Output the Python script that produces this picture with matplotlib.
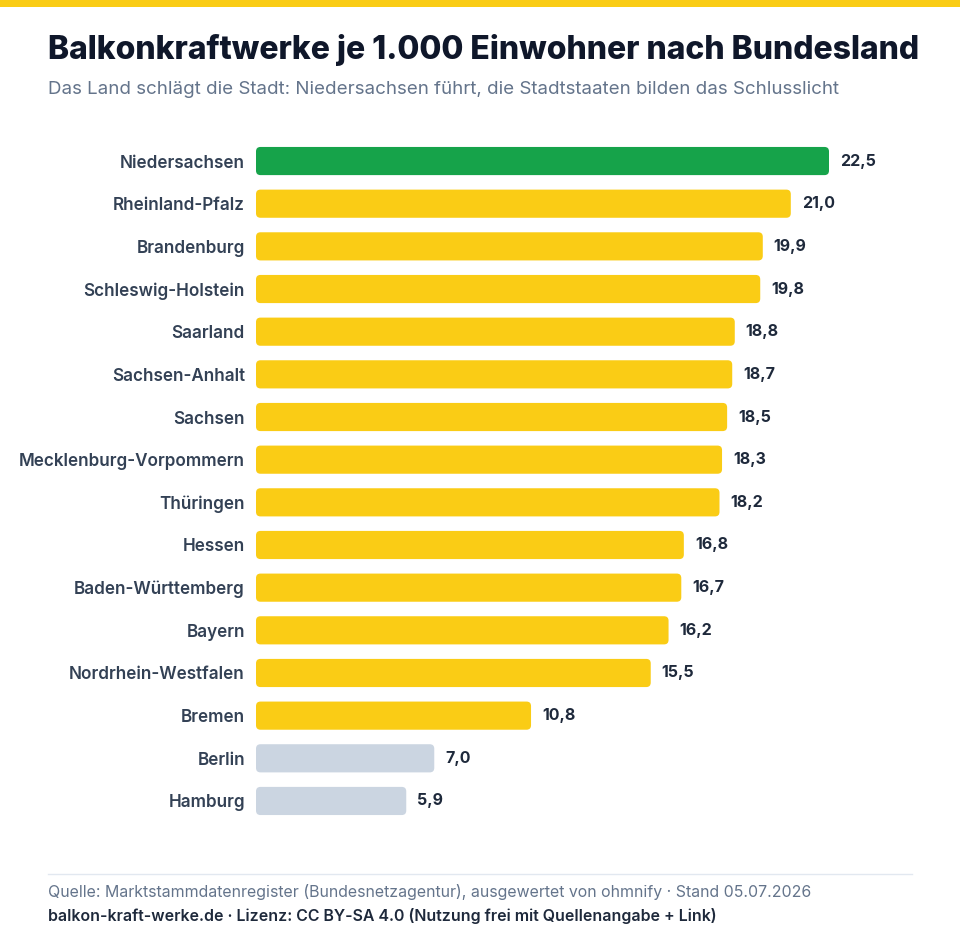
import matplotlib
matplotlib.use("Agg")
import matplotlib.pyplot as plt
from matplotlib.patches import FancyBboxPatch, Rectangle
from matplotlib.lines import Line2D

plt.rcParams['font.family'] = ['Inter', 'DejaVu Sans']

states = ["Niedersachsen", "Rheinland-Pfalz", "Brandenburg", "Schleswig-Holstein",
          "Saarland", "Sachsen-Anhalt", "Sachsen", "Mecklenburg-Vorpommern",
          "Thüringen", "Hessen", "Baden-Württemberg", "Bayern",
          "Nordrhein-Westfalen", "Bremen", "Berlin", "Hamburg"]
values = [22.5, 21.0, 19.9, 19.8, 18.8, 18.7, 18.5, 18.3, 18.2, 16.8, 16.7,
          16.2, 15.5, 10.8, 7.0, 5.9]
value_labels = ["22,5", "21,0", "19,9", "19,8", "18,8", "18,7", "18,5", "18,3",
                "18,2", "16,8", "16,7", "16,2", "15,5", "10,8", "7,0", "5,9"]

GREEN = "#16A34A"
YELLOW = "#FACC15"
GRAY = "#CBD5E1"
colors = [GREEN] + [YELLOW] * 13 + [GRAY] * 2

W, H = 960, 944
fig = plt.figure(figsize=(W / 100, H / 100), dpi=100)
fig.patch.set_facecolor("white")

# top stripe
fig.add_artist(Rectangle((0, 1 - 7 / H), 1, 7 / H, transform=fig.transFigure,
                         facecolor=YELLOW, edgecolor="none"))

ax_left, ax_right = 256, 912
ax_top, ax_bottom = 139.7, 822.3
ax = fig.add_axes([ax_left / W, (H - ax_bottom) / H,
                   (ax_right - ax_left) / W, (ax_bottom - ax_top) / H])
xmax = (ax_right - ax_left) / (573 / 22.5)
ax.set_xlim(0, xmax)
n = len(states)
ax.set_ylim(n - 0.5, -0.5)

bars = ax.barh(range(n), values, height=0.66, color=colors)
px_per_x = (ax_right - ax_left) / xmax
px_per_y = (ax_bottom - ax_top) / n
r_px = 4.5
for b, c in zip(bars, colors):
    x0, y0 = b.get_x(), b.get_y()
    w, h = b.get_width(), b.get_height()
    b.remove()
    p = FancyBboxPatch((x0, y0), w, h,
                       boxstyle=f"round,pad=0,rounding_size={r_px / px_per_x}",
                       mutation_aspect=px_per_x / px_per_y,
                       facecolor=c, edgecolor="none")
    ax.add_patch(p)

for i, (v, lab) in enumerate(zip(values, value_labels)):
    ax.annotate(lab, (v, i), xytext=(11, 0), textcoords="offset pixels",
                ha="left", va="center", fontsize=11.5, fontweight="bold",
                color="#1E293B")

ax.set_yticks(range(n))
ax.set_yticklabels(states, fontsize=12.3, fontweight="semibold", color="#334155")
ax.tick_params(axis="y", length=0, pad=8)
ax.set_xticks([])
for s in ax.spines.values():
    s.set_visible(False)
ax.set_facecolor("none")

fig.text(48 / W, 1 - 50 / H, "Balkonkraftwerke je 1.000 Einwohner nach Bundesland",
         ha="left", va="center", fontsize=23.0, fontweight="heavy", color="#0F172A")
fig.text(48 / W, 1 - 89 / H,
         "Das Land schlägt die Stadt: Niedersachsen führt, die Stadtstaaten bilden das Schlusslicht",
         ha="left", va="center", fontsize=13.5, color="#64748B")

fig.add_artist(Line2D([48 / W, 912 / W], [1 - 874 / H, 1 - 874 / H],
                      transform=fig.transFigure, color="#E2E8F0", linewidth=1))
fig.text(48 / W, 1 - 892 / H,
         "Quelle: Marktstammdatenregister (Bundesnetzagentur), ausgewertet von ohmnify · Stand 05.07.2026",
         ha="left", va="center", fontsize=11.45, color="#64748B")
fig.text(48 / W, 1 - 916 / H,
         "balkon-kraft-werke.de · Lizenz: CC BY-SA 4.0 (Nutzung frei mit Quellenangabe + Link)",
         ha="left", va="center", fontsize=11.45, fontweight="semibold", color="#1E293B")

fig.savefig("out.png", dpi=100, facecolor="white")
